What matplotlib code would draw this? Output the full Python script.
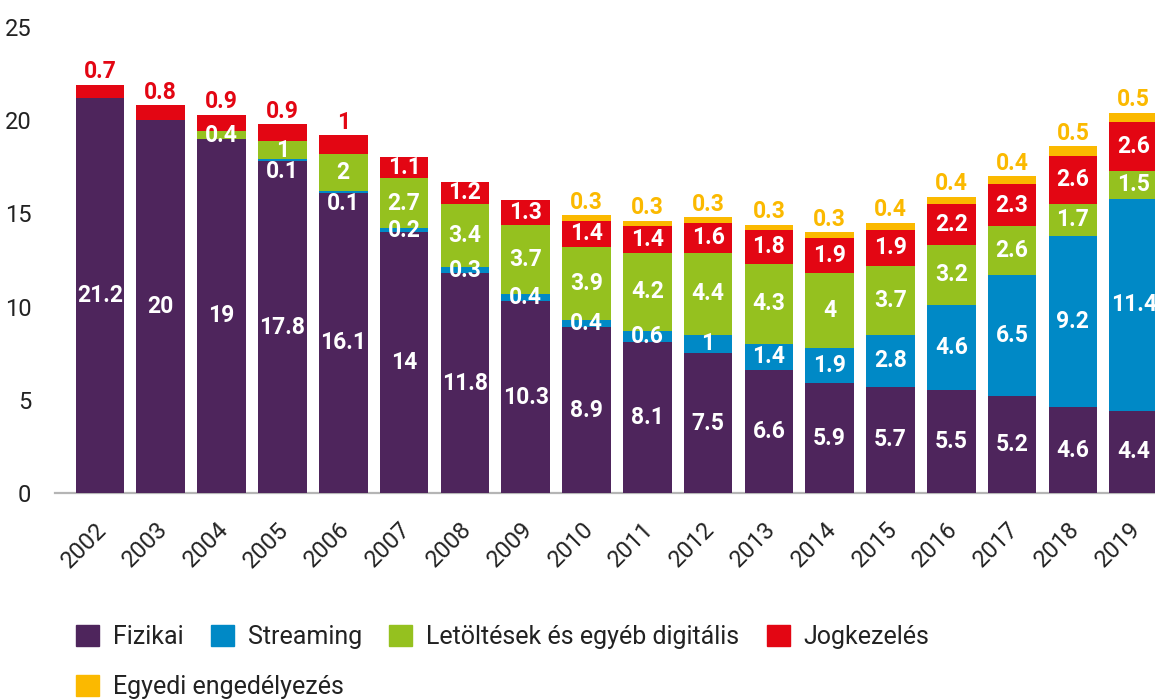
import matplotlib
matplotlib.use("Agg")
import matplotlib.pyplot as plt
from matplotlib.patches import Patch
import matplotlib.transforms as mtransforms
import numpy as np

years = [str(y) for y in range(2002, 2020)]
fizikai = [21.2, 20, 19, 17.8, 16.1, 14, 11.8, 10.3, 8.9, 8.1, 7.5, 6.6, 5.9, 5.7, 5.5, 5.2, 4.6, 4.4]
streaming = [0, 0, 0, 0.1, 0.1, 0.2, 0.3, 0.4, 0.4, 0.6, 1, 1.4, 1.9, 2.8, 4.6, 6.5, 9.2, 11.4]
letoltes = [0, 0, 0.4, 1, 2, 2.7, 3.4, 3.7, 3.9, 4.2, 4.4, 4.3, 4, 3.7, 3.2, 2.6, 1.7, 1.5]
jogkezeles = [0.7, 0.8, 0.9, 0.9, 1, 1.1, 1.2, 1.3, 1.4, 1.4, 1.6, 1.8, 1.9, 1.9, 2.2, 2.3, 2.6, 2.6]
egyedi = [0, 0, 0, 0, 0, 0, 0, 0, 0.3, 0.3, 0.3, 0.3, 0.3, 0.4, 0.4, 0.4, 0.5, 0.5]

series = [
    ("Fizikai", fizikai, "#4e255c"),
    ("Streaming", streaming, "#0089c6"),
    ("Letöltések és egyéb digitális", letoltes, "#95c11f"),
    ("Jogkezelés", jogkezeles, "#e30613"),
    ("Egyedi engedélyezés", egyedi, "#fbb900"),
]

plt.rcParams['font.family'] = ['Roboto', 'DejaVu Sans']

W, H = 1155, 700
fig = plt.figure(figsize=(W / 100, H / 100), dpi=100)
ax = fig.add_axes([55 / W, 1 - 493 / H, 1 - 55 / W, 493 / H])

x = np.arange(len(years))
bottom = np.zeros(len(years))
totals = np.sum([s[1] for s in series], axis=0)
for name, vals, col in series:
    vals = np.array(vals, dtype=float)
    ax.bar(x, vals, 0.8, bottom=bottom, color=col, label=name, zorder=2)
    for i, v in enumerate(vals):
        if v <= 0:
            continue
        top = bottom[i] + v
        is_top = abs(top - totals[i]) < 1e-9
        outside = name == "Egyedi engedélyezés" or (name == "Jogkezelés" and is_top and v <= 1.0)
        txt = f"{v:g}"
        if outside:
            ax.annotate(txt, (x[i], top), xytext=(0, 1), textcoords="offset points",
                        ha="center", va="bottom", color=col, fontsize=16.5, fontweight="bold")
        else:
            ypos = bottom[i] + v / 2
            dy = -8 if v < 0.15 else 0
            ax.annotate(txt, (x[i], ypos), xytext=(0, dy), textcoords="offset points",
                        ha="center", va="center", color="white", fontsize=16.5,
                        fontweight="bold", zorder=3)
    bottom = bottom + vals

ax.set_xlim(-0.74, 17.35)
ax.set_ylim(0, 26.45)
ax.set_yticks([0, 5, 10, 15, 20, 25])
ax.tick_params(axis="y", length=0, pad=17, labelsize=17, labelcolor="#222222")
ax.tick_params(axis="x", length=0, pad=18, labelsize=17, labelcolor="#222222")
ax.set_xticks(x)
ax.set_xticklabels(years, rotation=45, ha="right", rotation_mode="anchor")
shift = mtransforms.ScaledTranslation(-5 / 100, 0, fig.dpi_scale_trans)
for lab in ax.get_xticklabels():
    lab.set_transform(lab.get_transform() + shift)
for sp in ["top", "right", "left"]:
    ax.spines[sp].set_visible(False)
ax.spines["bottom"].set_color("#b5b5b5")
ax.spines["bottom"].set_linewidth(1.6)
ax.spines["bottom"].set_zorder(1)

handles = [Patch(color=c, label=n) for n, _, c in series]
legkw = dict(frameon=False, fontsize=18, handlelength=0.92, handleheight=0.88,
             handletextpad=0.55, columnspacing=1.1, borderaxespad=0, borderpad=0)
leg1 = fig.legend(handles=handles[:4], loc="center left", bbox_to_anchor=(76 / W, 1 - 637 / H),
                  ncol=4, **legkw)
leg2 = fig.legend(handles=handles[4:], loc="center left", bbox_to_anchor=(76 / W, 1 - 687 / H),
                  ncol=1, **legkw)
for leg in (leg1, leg2):
    for t in leg.get_texts():
        t.set_color("#222222")

fig.savefig("out.png", dpi=100)
